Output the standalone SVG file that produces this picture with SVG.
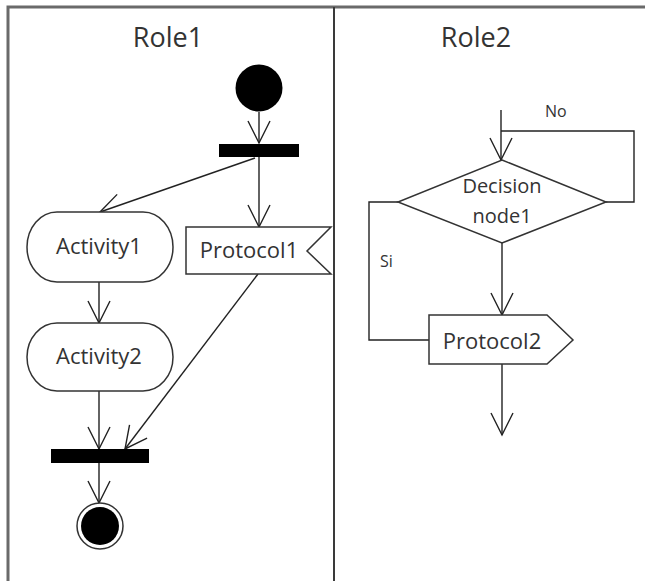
<svg xmlns="http://www.w3.org/2000/svg" width="645" height="581" viewBox="0 0 645 581">
  <style>
    .lane { stroke: #6a6a6a; stroke-width: 3; fill: none; }
    .divider { stroke: #3a3a3a; stroke-width: 2; fill: none; }
    .shape { fill: #fff; stroke: #333; stroke-width: 1.5; }
    .solid { fill: #000; stroke: none; }
    .edge { fill: none; stroke: #222; stroke-width: 1.4; }
    .title { font-family: "Open Sans", "Liberation Sans", sans-serif; font-size: 27px; fill: #333; text-anchor: middle; }
    .label { font-family: "Open Sans", "Liberation Sans", sans-serif; font-size: 22px; fill: #333; text-anchor: middle; }
    .small { font-family: "Open Sans", "Liberation Sans", sans-serif; font-size: 20px; fill: #333; text-anchor: middle; }
    .guard { font-family: "Open Sans", "Liberation Sans", sans-serif; font-size: 16px; fill: #333; }
  </style>
  <defs>
    <marker id="open-arrow" markerUnits="userSpaceOnUse" viewBox="-24 -13 26 26" markerWidth="26" markerHeight="26" refX="0" refY="0" orient="auto">
      <path d="M-22,-11 L0,0 L-22,11" fill="none" stroke="#222" stroke-width="1.4"/>
    </marker>
  </defs>

  <rect width="645" height="581" fill="#fff"/>

  <!-- swimlanes -->
  <g id="lanes">
    <path class="lane" d="M8,581 V7 H645"/>
    <path class="divider" d="M334,7 V581"/>
    <text class="title" x="168" y="47">Role1</text>
    <text class="title" x="476" y="47">Role2</text>
  </g>

  <!-- connectors -->
  <g id="connectors">
    <path class="edge" d="M259,112 V143" marker-end="url(#open-arrow)"/>
    <path class="edge" d="M255,158 L100,212" marker-end="url(#open-arrow)"/>
    <path class="edge" d="M259,157 V227" marker-end="url(#open-arrow)"/>
    <path class="edge" d="M99,282 V323" marker-end="url(#open-arrow)"/>
    <path class="edge" d="M99,391 V449" marker-end="url(#open-arrow)"/>
    <path class="edge" d="M258,274 L125,449" marker-end="url(#open-arrow)"/>
    <path class="edge" d="M99,463 V503" marker-end="url(#open-arrow)"/>
    <path class="edge" d="M501,110 V160" marker-end="url(#open-arrow)"/>
    <path class="edge" d="M606,202 H634 V131 H501"/>
    <path class="edge" d="M502,243 V315" marker-end="url(#open-arrow)"/>
    <path class="edge" d="M398,202 H369 V340 H429"/>
    <path class="edge" d="M502,364 V435" marker-end="url(#open-arrow)"/>
    <text class="guard" x="545" y="117">No</text>
    <text class="guard" x="380" y="267">Si</text>
  </g>

  <g id="start">
    <circle class="solid" cx="259" cy="88" r="23.5"/>
  </g>

  <g id="fork1">
    <rect class="solid" x="219" y="144" width="80" height="13"/>
  </g>

  <g id="activity1">
    <rect class="shape" x="27" y="212" width="146" height="70" rx="30" ry="35"/>
    <text class="label" x="99" y="254">Activity1</text>
  </g>

  <g id="protocol1">
    <polygon class="shape" points="186,227 331,227 307,251 331,274 186,274"/>
    <text class="label" x="249" y="258">Protocol1</text>
  </g>

  <g id="activity2">
    <rect class="shape" x="27" y="323" width="146" height="68" rx="30" ry="34"/>
    <text class="label" x="99" y="364">Activity2</text>
  </g>

  <g id="join1">
    <rect class="solid" x="51" y="449" width="98" height="14"/>
  </g>

  <g id="end">
    <circle cx="100" cy="526" r="23" fill="#fff" stroke="#333" stroke-width="1.5"/>
    <circle class="solid" cx="100" cy="526" r="19"/>
  </g>

  <g id="decision1">
    <polygon class="shape" points="502,160 606,202 502,243 398,202"/>
    <text class="small" x="502" y="193">Decision</text>
    <text class="small" x="502" y="223">node1</text>
  </g>

  <g id="protocol2">
    <polygon class="shape" points="429,315 547,315 573,340 547,364 429,364"/>
    <text class="label" x="492" y="349">Protocol2</text>
  </g>
</svg>
